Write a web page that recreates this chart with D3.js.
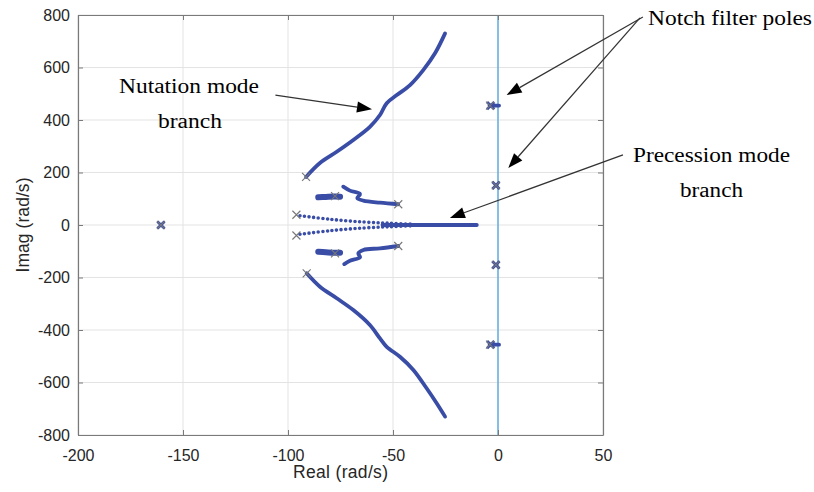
<!DOCTYPE html>
<html>
<head>
<meta charset="utf-8">
<script src="https://cdnjs.cloudflare.com/ajax/libs/d3/7.8.5/d3.min.js"></script>
<style>
  body { margin: 0; background: #fff; }
</style>
</head>
<body>
<script>
'use strict';

// axis ticks
const xTicks = [-200, -150, -100, -50, 0, 50];
const yTicks = [-800, -600, -400, -200, 0, 200, 400, 600, 800];

// nutation mode branches (real, imag)
const nutationUpper = [[-91.4, 183], [-84.8, 236], [-76.8, 279], [-68.9, 324], [-61, 374],
  [-56.2, 419], [-53, 464], [-48.2, 495], [-41.9, 533], [-35.6, 590], [-30, 654], [-25.2, 730]];
const nutationLower = [[-91.1, -184], [-84.8, -235], [-76.8, -279], [-68.9, -324], [-61, -381],
  [-56.2, -432], [-53, -464], [-46.7, -502], [-40.3, -552], [-34, -622], [-29.2, -679], [-25.2, -730]];

// small wiggly branches near -50..-75
const wiggleUpper = [[-47.5, 79], [-56.2, 85], [-64.1, 93], [-67, 102], [-65.7, 118], [-70.5, 131], [-73.7, 146]];
const wiggleLower = [[-47.5, -80], [-56.2, -89], [-64.1, -95], [-66.5, -108], [-65.7, -123], [-70.5, -136], [-73.2, -149]];

// short thick blobs at the poles near -77
const blobUpper = [[-85.6, 105.5], [-82, 107], [-78, 108.5], [-75.2, 108]];
const blobLower = [[-85.6, -102], [-82, -104], [-78, -106], [-75.2, -105.5]];

// precession mode branch: dotted part and solid part on the real axis
const precessionUpper = [[-94.3, 35.4], [-80, 21.7], [-64.1, 11.4], [-51.4, 6.5], [-40.3, 2.7]];
const precessionLower = [[-94.3, -35.4], [-80, -21.7], [-64.1, -11.4], [-51.4, -6.5], [-40.3, -2.7]];
const precessionAxis = [[-55, 0], [-10.1, 0]];

// notch filter branches (short)
const notchUpper = [[-4, 455], [0.5, 455]];
const notchLower = [[-4, -456], [0.5, -456]];

// open-loop poles (grey x)
const openPoles = [[-160.5, 0], [-91.4, 183], [-91.1, -184], [-96, 39], [-96, -40],
  [-77.6, 110], [-77.6, -108], [-47.5, 79], [-47.5, -80],
  [-3.8, 455], [-3.8, -456], [-1, 151], [-1, -152]];

// closed-loop poles shown in blue
const bluePoles = [[-160.5, 0], [-3.5, 455], [-3.5, -456], [-1, 151], [-1, -152]];

// annotation arrows [from, to] in data units
const arrows = [
  [[-106, 495], [-60, 441]],
  [[69, 792], [4.1, 495]],
  [[67.6, 789], [4.9, 217]],
  [[59.5, 267], [-22.9, 27]]
];

(function() {

  let svgContainer = "";
  let xScale = "";
  let yScale = "";

  const width = 814;
  const height = 492;
  const plot = { left: 78, right: 603, top: 15, bottom: 435 };
  const blue = '#3a4da6';

  window.onload = function() {
    svgContainer = d3.select('body')
      .append('svg')
      .attr('width', width)
      .attr('height', height)
      .style('font-family', '"Liberation Sans", Arial, sans-serif');

    xScale = d3.scaleLinear().domain([-200, 50]).range([plot.left, plot.right]);
    yScale = d3.scaleLinear().domain([-800, 800]).range([plot.bottom, plot.top]);

    drawGrid();
    drawBranches();
    drawPoles();
    drawAxes();
    drawAnnotations();
  }

  // light grid lines + the imaginary axis line
  function drawGrid() {
    let grid = svgContainer.append('g');
    grid.selectAll('.vgrid')
      .data(xTicks)
      .enter()
      .append('line')
      .attr('x1', (d) => xScale(d)).attr('x2', (d) => xScale(d))
      .attr('y1', plot.top).attr('y2', plot.bottom)
      .attr('stroke', '#e3e3e3');
    grid.selectAll('.hgrid')
      .data(yTicks)
      .enter()
      .append('line')
      .attr('y1', (d) => yScale(d)).attr('y2', (d) => yScale(d))
      .attr('x1', plot.left).attr('x2', plot.right)
      .attr('stroke', '#e3e3e3');

    svgContainer.append('line')
      .attr('x1', xScale(0)).attr('x2', xScale(0))
      .attr('y1', plot.top).attr('y2', plot.bottom)
      .attr('stroke', '#4ea4de')
      .attr('stroke-width', 1.3);
  }

  // root locus branches
  function drawBranches() {
    let line = d3.line()
      .x((d) => xScale(d[0]))
      .y((d) => yScale(d[1]))
      .curve(d3.curveCatmullRom);

    let solid = [nutationUpper, nutationLower, wiggleUpper, wiggleLower, notchUpper, notchLower, precessionAxis];
    svgContainer.selectAll('.branch')
      .data(solid)
      .enter()
      .append('path')
      .attr('d', line)
      .attr('fill', 'none')
      .attr('stroke', blue)
      .attr('stroke-width', 3.8)
      .attr('stroke-linecap', 'round')
      .attr('stroke-linejoin', 'round');

    svgContainer.selectAll('.blob')
      .data([blobUpper, blobLower])
      .enter()
      .append('path')
      .attr('d', line)
      .attr('fill', 'none')
      .attr('stroke', blue)
      .attr('stroke-width', 6)
      .attr('stroke-linecap', 'round');

    // dotted precession approach
    svgContainer.selectAll('.dotted')
      .data([precessionUpper, precessionLower])
      .enter()
      .append('path')
      .attr('d', line)
      .attr('fill', 'none')
      .attr('stroke', blue)
      .attr('stroke-width', 3.6)
      .attr('stroke-linecap', 'round')
      .attr('stroke-dasharray', '0,4.6');
  }

  // x shaped pole markers
  function drawPoles() {
    let cross = (s) => `M${-s},${-s}L${s},${s}M${-s},${s}L${s},${-s}`;

    svgContainer.selectAll('.bpole')
      .data(bluePoles)
      .enter()
      .append('path')
      .attr('transform', (d) => `translate(${xScale(d[0])},${yScale(d[1])})`)
      .attr('d', cross(3.6))
      .attr('stroke', blue)
      .attr('stroke-width', 2.8);

    svgContainer.selectAll('.opole')
      .data(openPoles)
      .enter()
      .append('path')
      .attr('transform', (d) => `translate(${xScale(d[0])},${yScale(d[1])})`)
      .attr('d', cross(4))
      .attr('stroke', '#777')
      .attr('stroke-width', 1.1);
  }

  // box, ticks and labels
  function drawAxes() {
    let axisColor = '#7a7a7a';
    let fmt = (d) => String(d); // plain hyphen minus like the original

    let xAxis = d3.axisBottom(xScale).tickValues(xTicks).tickFormat(fmt).tickSizeInner(-5).tickSizeOuter(0).tickPadding(15);
    let yAxis = d3.axisLeft(yScale).tickValues(yTicks).tickFormat(fmt).tickSizeInner(-5).tickSizeOuter(0).tickPadding(8);
    let topAxis = d3.axisTop(xScale).tickValues(xTicks).tickSizeInner(-5).tickSizeOuter(0).tickFormat('');
    let rightAxis = d3.axisRight(yScale).tickValues(yTicks).tickSizeInner(-5).tickSizeOuter(0).tickFormat('');

    let groups = [
      svgContainer.append('g').attr('transform', `translate(0, ${plot.bottom})`).call(xAxis),
      svgContainer.append('g').attr('transform', `translate(${plot.left}, 0)`).call(yAxis),
      svgContainer.append('g').attr('transform', `translate(0, ${plot.top})`).call(topAxis),
      svgContainer.append('g').attr('transform', `translate(${plot.right}, 0)`).call(rightAxis)
    ];
    groups.forEach((g) => {
      g.select('.domain').attr('stroke', axisColor).attr('stroke-width', 1.2);
      g.selectAll('.tick line').attr('stroke', axisColor);
      g.selectAll('.tick text')
        .attr('fill', '#262626')
        .style('font-size', '16px')
        .style('font-family', '"Liberation Sans", Arial, sans-serif');
    });

    svgContainer.append('text')
      .attr('x', (plot.left + plot.right) / 2)
      .attr('y', 478)
      .attr('text-anchor', 'middle')
      .attr('fill', '#262626')
      .style('font-size', '17.5px')
      .attr('textLength', 95)
      .text('Real (rad/s)');

    svgContainer.append('text')
      .attr('transform', 'translate(29, 225)rotate(-90)')
      .attr('text-anchor', 'middle')
      .attr('fill', '#262626')
      .style('font-size', '17.5px')
      .attr('textLength', 95)
      .text('Imag (rad/s)');
  }

  // arrows and serif annotations
  function drawAnnotations() {
    let head = 15;
    let half = 5.5;
    arrows.forEach((a) => {
      let x1 = xScale(a[0][0]), y1 = yScale(a[0][1]);
      let x2 = xScale(a[1][0]), y2 = yScale(a[1][1]);
      let ang = Math.atan2(y2 - y1, x2 - x1);
      let bx = x2 - head * Math.cos(ang), by = y2 - head * Math.sin(ang);
      svgContainer.append('line')
        .attr('x1', x1).attr('y1', y1)
        .attr('x2', bx).attr('y2', by)
        .attr('stroke', '#333')
        .attr('stroke-width', 1.2);
      let pts = [
        [x2, y2],
        [bx + half * Math.sin(ang), by - half * Math.cos(ang)],
        [bx - half * Math.sin(ang), by + half * Math.cos(ang)]
      ];
      svgContainer.append('polygon')
        .attr('points', pts.map((p) => p.join(',')).join(' '))
        .attr('fill', '#000');
    });

    let labels = [
      { t: 'Nutation mode', x: 119, y: 93, w: 140 },
      { t: 'branch', x: 158, y: 128, w: 64 },
      { t: 'Notch filter poles', x: 648, y: 25, w: 164 },
      { t: 'Precession mode', x: 633, y: 162, w: 157 },
      { t: 'branch', x: 680, y: 197, w: 63 }
    ];
    svgContainer.selectAll('.note')
      .data(labels)
      .enter()
      .append('text')
      .attr('x', (d) => d.x)
      .attr('y', (d) => d.y)
      .attr('textLength', (d) => d.w)
      .attr('lengthAdjust', 'spacingAndGlyphs')
      .attr('fill', '#000')
      .style('font-family', '"Liberation Serif", "Times New Roman", serif')
      .style('font-size', '20px')
      .text((d) => d.t);
  }

})();
</script>
</body>
</html>
